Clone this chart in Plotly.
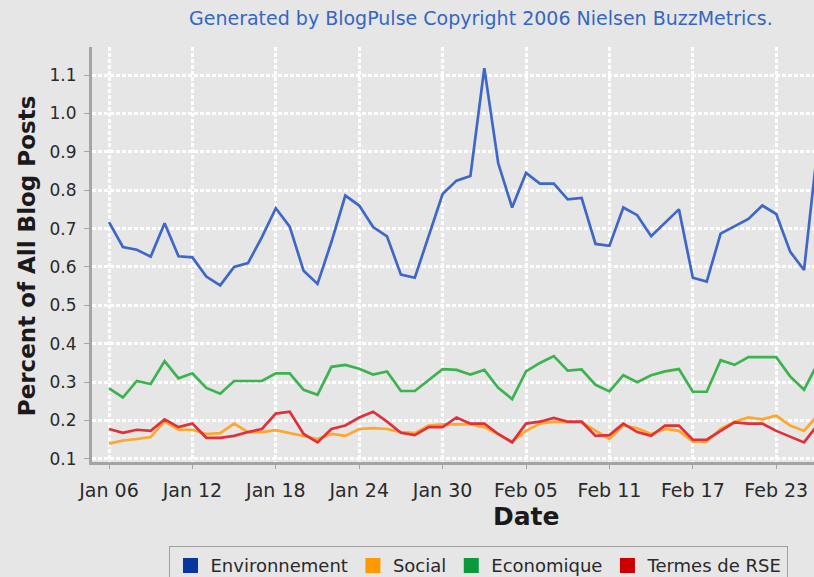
import pandas as pd
import plotly.graph_objects as go

dates = pd.date_range("2006-01-06", "2006-02-26", freq="D")

environnement = [
    0.717, 0.652, 0.645, 0.627, 0.714, 0.628, 0.625, 0.575, 0.552, 0.600,
    0.610, 0.678, 0.753, 0.705, 0.590, 0.556, 0.665, 0.786, 0.760, 0.704,
    0.680, 0.580, 0.572, 0.680, 0.790, 0.825, 0.837, 1.118, 0.870, 0.755,
    0.845, 0.817, 0.817, 0.776, 0.780, 0.660, 0.655, 0.755, 0.735, 0.680,
    0.715, 0.750, 0.572, 0.562, 0.687, 0.705, 0.725, 0.760, 0.738, 0.640,
    0.592, 0.920,
]
social = [
    0.140, 0.148, 0.152, 0.157, 0.198, 0.176, 0.176, 0.165, 0.167, 0.192,
    0.170, 0.170, 0.175, 0.167, 0.160, 0.152, 0.165, 0.160, 0.178, 0.180,
    0.178, 0.170, 0.167, 0.187, 0.190, 0.190, 0.190, 0.183, 0.165, 0.145,
    0.173, 0.192, 0.197, 0.195, 0.195, 0.173, 0.152, 0.187, 0.180, 0.165,
    0.178, 0.173, 0.145, 0.145, 0.178, 0.197, 0.208, 0.203, 0.213, 0.187,
    0.173, 0.215,
]
economique = [
    0.284, 0.260, 0.303, 0.295, 0.355, 0.310, 0.323, 0.285, 0.270, 0.303,
    0.303, 0.303, 0.323, 0.323, 0.280, 0.267, 0.340, 0.345, 0.335, 0.320,
    0.328, 0.277, 0.277, 0.305, 0.334, 0.332, 0.320, 0.332, 0.285, 0.256,
    0.328, 0.350, 0.368, 0.330, 0.333, 0.293, 0.276, 0.318, 0.300, 0.318,
    0.328, 0.334, 0.275, 0.275, 0.357, 0.345, 0.365, 0.365, 0.365, 0.315,
    0.280, 0.350,
]
termes_rse = [
    0.178, 0.168, 0.176, 0.173, 0.203, 0.183, 0.192, 0.155, 0.155, 0.160,
    0.170, 0.178, 0.218, 0.223, 0.165, 0.143, 0.178, 0.187, 0.208, 0.223,
    0.197, 0.168, 0.162, 0.183, 0.183, 0.208, 0.192, 0.192, 0.165, 0.143,
    0.192, 0.197, 0.207, 0.197, 0.197, 0.160, 0.162, 0.192, 0.170, 0.160,
    0.187, 0.187, 0.150, 0.150, 0.173, 0.195, 0.192, 0.192, 0.173, 0.157,
    0.143, 0.190,
]

series_names = ["Environnement", "Social", "Economique", "Termes de RSE"]
series_values = [environnement, social, economique, termes_rse]
line_colors = ["#3f67c6", "#ffa62b", "#3cb34f", "#e0303a"]
legend_colors = ["#0a35a0", "#ff9900", "#0a9a3a", "#cc0000"]

BG = "#e6e6e6"
FONT = "DejaVu Sans"

fig = go.Figure()
for name, vals, col in zip(series_names, series_values, line_colors):
    fig.add_trace(go.Scatter(x=dates, y=vals, mode="lines", name=name,
                             line=dict(color=col, width=2.7), showlegend=False))
# square legend swatches
for name, col in zip(series_names, legend_colors):
    fig.add_trace(go.Scatter(x=[None], y=[None], mode="markers", name=name,
                             marker=dict(symbol="square", size=15, color=col)))

fig.update_layout(
    width=814, height=577,
    margin=dict(l=92, r=0, t=47, b=115, autoexpand=False),
    paper_bgcolor=BG, plot_bgcolor=BG,
    font=dict(family=FONT, color="#2a2a2a", size=17),
    legend=dict(orientation="h", x=0.536, xanchor="center", y=-0.203, yanchor="top",
                bgcolor=BG, bordercolor="#a0a0a0", borderwidth=1,
                font=dict(family=FONT, size=18, color="#2a2a2a"),
                itemclick=False),
    annotations=[
        dict(text="Generated by BlogPulse Copyright 2006 Nielsen BuzzMetrics.",
             xref="paper", yref="paper", x=0.539, y=1.07, xanchor="center", yanchor="middle",
             showarrow=False, font=dict(family=FONT, size=19, color="#3566c4")),
        dict(text="<b>Percent of All Blog Posts</b>", textangle=-90,
             xref="paper", yref="paper", x=-0.09, y=0.496, xanchor="center", yanchor="middle",
             showarrow=False, font=dict(family=FONT, size=23, color="#1a1a1a")),
        dict(text="<b>Date</b>",
             xref="paper", yref="paper", x=0.602, y=-0.1325, xanchor="center", yanchor="middle",
             showarrow=False, font=dict(family=FONT, size=25, color="#1a1a1a")),
    ],
)
fig.update_xaxes(
    range=["2006-01-04 18:39", "2006-02-25 17:13"],
    tick0="2006-01-06", dtick=6 * 24 * 3600 * 1000, tickformat="%b %d",
    tickfont=dict(size=19),
    showgrid=True, gridcolor="white", gridwidth=2.5, griddash="4px,2px",
    showline=True, linecolor="#a4a4a4", linewidth=3,
    ticks="outside", ticklen=4, tickcolor="#a4a4a4", ticklabelstandoff=5,
    zeroline=False,
)
fig.update_yaxes(
    range=[0.092, 1.173], dtick=0.1, tick0=0.1, tickformat=".1f",
    showgrid=True, gridcolor="white", gridwidth=2.5, griddash="4px,2px",
    showline=True, linecolor="#a4a4a4", linewidth=3,
    ticks="outside", ticklen=5, tickcolor="#a4a4a4", ticklabelstandoff=4,
    zeroline=False,
)
fig.write_html(
    "out.html",
    config={"displayModeBar": False},
    post_script=(
        "document.body.style.margin='0';"
        "document.body.style.overflow='hidden';"
        "document.documentElement.style.overflow='hidden';"
    ),
)
